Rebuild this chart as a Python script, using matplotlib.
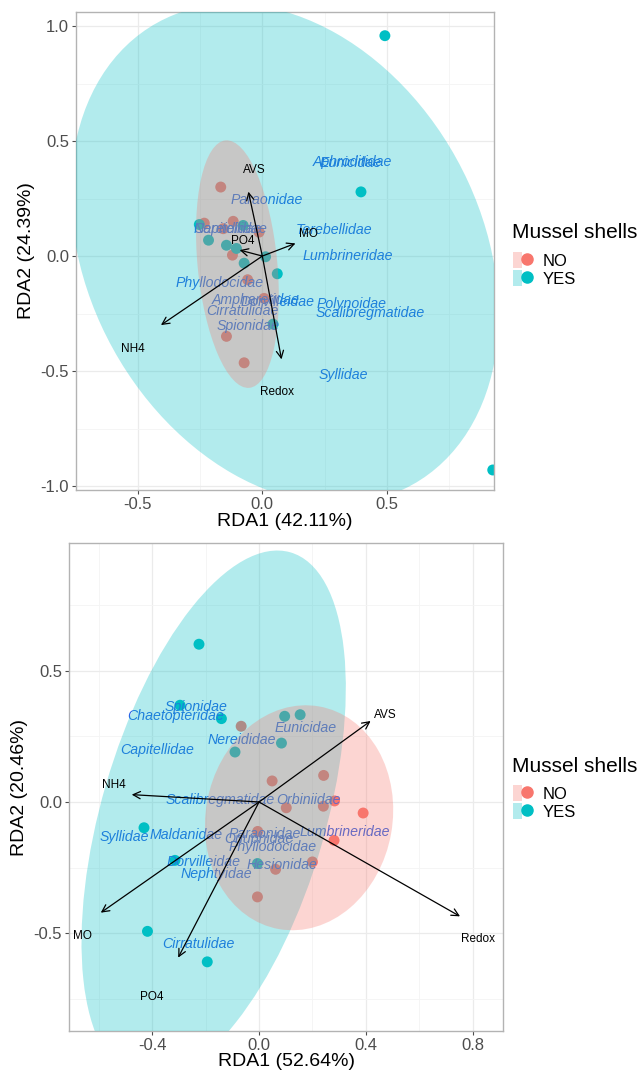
import matplotlib
matplotlib.use("Agg")
import matplotlib.pyplot as plt
from matplotlib.patches import Ellipse, Patch
from matplotlib.lines import Line2D
from matplotlib.legend_handler import HandlerTuple

plt.rcParams['font.family'] = ['Liberation Sans', 'DejaVu Sans']

RED = '#F8766D'
TEAL = '#00BFC4'
SPECIES_BLUE = '#2a64e6'

# ---------- RDA with AVS / Redox / MO / PO4 / NH4 (upper plot) ----------
a_no_x = [-0.167, -0.233, -0.117, -0.157, -0.013, -0.120, -0.059, 0.007, -0.144, -0.073]
a_no_y = [0.300, 0.143, 0.151, 0.119, 0.104, 0.004, -0.103, -0.184, -0.349, -0.464]
a_yes_x = [0.492, 0.396, 0.925, -0.253, -0.077, -0.216, -0.144, -0.104, 0.013, -0.073, 0.060, 0.043]
a_yes_y = [0.958, 0.279, -0.930, 0.137, 0.133, 0.069, 0.047, 0.033, -0.003, -0.031, -0.077, -0.296]

a_env = ['AVS', 'Redox', 'MO', 'PO4', 'NH4']
a_env_x = [-0.056, 0.077, 0.133, -0.091, -0.407]
a_env_y = [0.280, -0.449, 0.055, 0.026, -0.300]
a_env_lx = [-0.033, 0.060, 0.187, -0.080, -0.519]
a_env_ly = [0.374, -0.590, 0.096, 0.067, -0.404]

a_sp = ['Aphroditidae', 'Eunicidae', 'Paraonidae', 'Nereididae', 'Capitellidae',
        'Terebellidae', 'Lumbrineridae', 'Phyllodocidae', 'Ampharetidae',
        'Dorvilleidae', 'Polynoidae', 'Scalibregmatidae', 'Cirratulidae',
        'Spionidae', 'Syllidae']
a_sp_x = [0.360, 0.356, 0.016, -0.140, -0.128, 0.288, 0.344, -0.171, -0.027,
          0.060, 0.357, 0.433, -0.079, -0.057, 0.325]
a_sp_y = [0.410, 0.403, 0.243, 0.117, 0.117, 0.113, 0.000, -0.119, -0.191,
          -0.201, -0.210, -0.249, -0.238, -0.304, -0.517]

# confidence ellipses: centre x, centre y, semi-major, semi-minor, angle
a_ell_yes = (0.09, 0.01, 1.13, 0.80, 113)
a_ell_no = (-0.10, -0.035, 0.54, 0.16, 95)

# ---------- RDA (lower plot) ----------
b_no_x = [-0.067, 0.049, 0.242, 0.283, 0.102, 0.241, 0.390, -0.005, 0.281, 0.200, 0.062, -0.006]
b_no_y = [0.288, 0.080, 0.101, 0.004, -0.022, -0.016, -0.042, -0.112, -0.146, -0.228, -0.256, -0.361]
b_yes_x = [-0.225, -0.296, -0.141, 0.096, 0.154, 0.084, -0.090, -0.431, -0.315, -0.006, -0.418, -0.194]
b_yes_y = [0.600, 0.368, 0.317, 0.326, 0.332, 0.224, 0.190, -0.098, -0.222, -0.234, -0.492, -0.608]

b_env = ['AVS', 'NH4', 'Redox', 'MO', 'PO4']
b_env_x = [0.418, -0.477, 0.753, -0.593, -0.303]
b_env_y = [0.308, 0.028, -0.435, -0.421, -0.592]
b_env_lx = [0.474, -0.543, 0.820, -0.660, -0.402]
b_env_ly = [0.330, 0.063, -0.523, -0.508, -0.740]

b_sp = ['Spionidae', 'Chaetopteridae', 'Eunicidae', 'Nereididae', 'Capitellidae',
        'Scalibregmatidae', 'Orbiniidae', 'Syllidae', 'Maldanidae', 'Paraonidae',
        'Onuphidae', 'Lumbrineridae', 'Phyllodocidae', 'Dorvilleidae',
        'Hesionidae', 'Nephtyidae', 'Cirratulidae']
b_sp_x = [-0.236, -0.311, 0.176, -0.066, -0.380, -0.147, 0.184, -0.504, -0.272,
          0.020, 0.000, 0.321, 0.050, -0.206, 0.085, -0.160, -0.227]
b_sp_y = [0.361, 0.326, 0.283, 0.234, 0.196, 0.006, 0.006, -0.133, -0.124,
          -0.123, -0.140, -0.114, -0.171, -0.228, -0.238, -0.272, -0.542]

b_ell_yes = (-0.17, -0.05, 1.04, 0.42, 74)
b_ell_no = (0.15, -0.06, 0.43, 0.35, 80)


def style_axes(ax, xmajor, xminor, ymajor, yminor):
    ax.set_xticks(xmajor)
    ax.set_xticks(xminor, minor=True)
    ax.set_yticks(ymajor)
    ax.set_yticks(yminor, minor=True)
    ax.grid(which='major', color='#ebebeb', lw=0.9, zorder=0)
    ax.grid(which='minor', color='#f4f4f4', lw=0.6, zorder=0)
    ax.set_axisbelow(True)
    for s in ax.spines.values():
        s.set_color('#b3b3b3')
        s.set_linewidth(1.0)
    ax.tick_params(which='major', length=3, pad=2, color='#4d4d4d',
                   labelcolor='#4d4d4d', labelsize=12)
    ax.tick_params(which='minor', length=0)


def draw_rda(ax, no_x, no_y, yes_x, yes_y, env, ex, ey, elx, ely,
             sp, sx, sy, ell_yes, ell_no):
    ax.scatter(no_x, no_y, s=62, color=RED, edgecolors='none', zorder=2)
    ax.scatter(yes_x, yes_y, s=62, color=TEAL, edgecolors='none', zorder=2)
    for name, x, y in zip(sp, sx, sy):
        ax.text(x, y, name, color=SPECIES_BLUE, fontsize=10.2, style='italic',
                ha='center', va='center', zorder=3)
    # group ellipses sit over the points and species names
    for (cx, cy, a, b, ang), col in [(ell_yes, TEAL), (ell_no, RED)]:
        ax.add_patch(Ellipse((cx, cy), 2 * a, 2 * b, angle=ang, facecolor=col,
                             edgecolor='none', alpha=0.3, zorder=4))
    for name, x, y, lx, ly in zip(env, ex, ey, elx, ely):
        ax.annotate('', xy=(x, y), xytext=(0, 0),
                    arrowprops=dict(arrowstyle='->', color='black', lw=0.9,
                                    shrinkA=0, shrinkB=0, mutation_scale=13),
                    zorder=5)
        ax.text(lx, ly, name, fontsize=8.5, color='black', ha='center',
                va='center', zorder=5)


fig = plt.figure(figsize=(6.39, 10.72), dpi=100)

ax1 = fig.add_axes([76 / 639, 1 - 490 / 1072, 418 / 639, 478 / 1072])
draw_rda(ax1, a_no_x, a_no_y, a_yes_x, a_yes_y, a_env, a_env_x, a_env_y,
         a_env_lx, a_env_ly, a_sp, a_sp_x, a_sp_y, a_ell_yes, a_ell_no)
ax1.set_xlim(-0.748, 0.93)
ax1.set_ylim(-1.017, 1.061)
style_axes(ax1, [-0.5, 0, 0.5], [-0.25, 0.25, 0.75],
           [-1, -0.5, 0, 0.5, 1], [-0.75, -0.25, 0.25, 0.75])
ax1.set_xticklabels(['-0.5', '0.0', '0.5'])
ax1.set_yticklabels(['-1.0', '-0.5', '0.0', '0.5', '1.0'])
ax1.set_xlabel('RDA1 (42.11%)', fontsize=14, labelpad=1)
ax1.set_ylabel('RDA2 (24.39%)', fontsize=14, labelpad=4)

ax2 = fig.add_axes([69 / 639, 1 - 1031 / 1072, 434 / 639, 488 / 1072])
draw_rda(ax2, b_no_x, b_no_y, b_yes_x, b_yes_y, b_env, b_env_x, b_env_y,
         b_env_lx, b_env_ly, b_sp, b_sp_x, b_sp_y, b_ell_yes, b_ell_no)
ax2.set_xlim(-0.712, 0.914)
ax2.set_ylim(-0.871, 0.985)
style_axes(ax2, [-0.4, 0, 0.4, 0.8], [-0.6, -0.2, 0.2, 0.6],
           [-0.5, 0, 0.5], [-0.75, -0.25, 0.25, 0.75])
ax2.set_xticklabels(['-0.4', '0.0', '0.4', '0.8'])
ax2.set_yticklabels(['-0.5', '0.0', '0.5'])
ax2.set_xlabel('RDA1 (52.64%)', fontsize=14, labelpad=0)
ax2.set_ylabel('RDA2 (20.46%)', fontsize=14, labelpad=4)

handles = [(Patch(facecolor=RED, alpha=0.3, edgecolor='none'),
            Line2D([], [], marker='o', ls='', color=RED, markersize=8)),
           (Patch(facecolor=TEAL, alpha=0.3, edgecolor='none'),
            Line2D([], [], marker='o', ls='', color=TEAL, markersize=8))]
# legend title row, then the key rows a little below it
for title_y, keys_top in ((233, 252), (766, 785)):
    fig.text(512 / 639, 1 - title_y / 1072, 'Mussel shells', fontsize=15,
             ha='left', va='center')
    fig.legend(handles, ['NO', 'YES'],
               handler_map={tuple: HandlerTuple(ndivide=None, pad=0)},
               loc='upper left', bbox_to_anchor=(513 / 639, 1 - keys_top / 1072),
               frameon=False, fontsize=12, handlelength=1.1, handleheight=1.1,
               handletextpad=0.7, labelspacing=0.1, borderaxespad=0,
               borderpad=0)

fig.savefig('out.png', dpi=100)
